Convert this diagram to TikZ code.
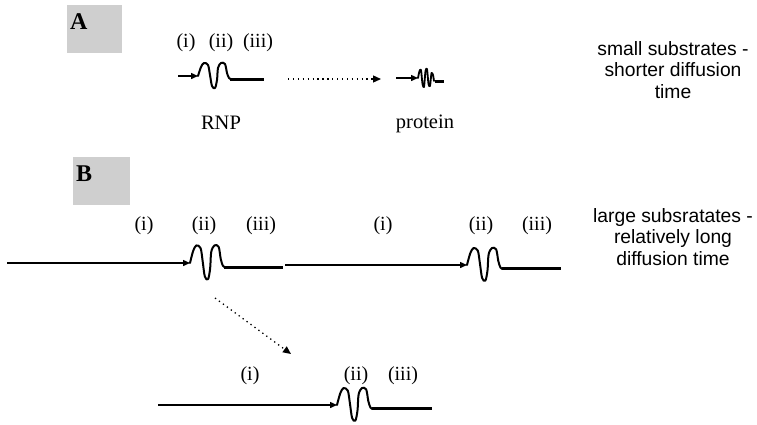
\documentclass[tikz,border=0pt]{standalone}
\usepackage{fontspec}
\setmainfont{Liberation Serif}
\newfontfamily\arialfont{Liberation Sans}
\usetikzlibrary{arrows.meta}
\begin{document}
\begin{tikzpicture}[x=1pt,y=-1pt,
  lbl/.style={font=\fontsize{20}{22}\selectfont, inner sep=0pt},
  word/.style={font=\fontsize{20.5}{22}\selectfont, inner sep=0pt},
  side/.style={font=\arialfont\fontsize{19.3}{21.8}\selectfont, align=center, inner sep=0pt},
  panel/.style={fill=gray!38, draw=none, inner sep=0pt, anchor=north west},
  panelletter/.style={font=\bfseries\fontsize{24}{24}\selectfont, inner sep=0pt, anchor=north west},
  thinarrow/.style={line width=1.4pt, -{Triangle[length=7pt,width=6pt]}},
  dotarrow/.style={line width=1.3pt, dash pattern=on 1.3pt off 3.6pt, -{Triangle[length=8pt,width=7pt]}},
  wig/.style={line width=2pt, line join=round, line cap=round},
  thickbar/.style={line width=3pt},
  pics/rnp/.style={code={
    \draw[wig] plot[smooth, tension=0.55] coordinates {(0,0) (3,-9) (6,-13) (10,-11) (12,-1) (14,10) (17,12) (19,4) (20,-8) (23,-13) (27,-12) (29,-3) (31,2) (33,3)};
    \draw[thickbar] (32,3) -- (33+#1,3);
  }},
  pics/prot/.style={code={
    \draw[wig, line width=1.8pt] plot[smooth, tension=0.4] coordinates {(0,0) (1.5,-7) (3,-8) (4.5,6) (6,9) (7.5,-7) (9,-9) (10.5,6) (12,8) (13.5,-5) (15,-3) (16,3)};
    \draw[thickbar] (17,3) -- (26,3);
  }}
]
\useasboundingbox (0,0) rectangle (757,424);

% ---------- Panel A ----------
\node[panel, minimum width=55pt, minimum height=48pt] (boxA) at (67,5) {};
\node[panelletter] (letA) at ([shift={(3,8)}]boxA.north west) {A};

\node[lbl] (ai) at (186,43) {(i)};
\node[lbl] (aii) at (221,43) {(ii)};
\node[lbl] (aiii) at (258,43) {(iii)};

\coordinate (as) at (178,76);
\coordinate (at) at (198,76);
\draw[thinarrow] (as) -- (at);
\pic at (at) {rnp=33};
\node[word] (rnp) at (221,123) {RNP};

\coordinate (ds) at (288,79);
\coordinate (dt) at (381,79);
\draw[dotarrow] (ds) -- (dt);

\coordinate (ps) at (396,78);
\coordinate (pt) at (418,78);
\draw[thinarrow] (ps) -- (pt);
\pic at (pt) {prot};
\node[word] (protein) at (425,124) {protein};

\node[side] (sideA) at (673,70) {small substrates -\\shorter diffusion\\time};

% ---------- Panel B ----------
\node[panel, minimum width=57pt, minimum height=48pt] (boxB) at (73,157) {};
\node[panelletter] (letB) at ([shift={(3,9)}]boxB.north west) {B};

\node[lbl] (b1) at (144,226) {(i)};
\node[lbl] (b2) at (204,226) {(ii)};
\node[lbl] (b3) at (261,226) {(iii)};
\node[lbl] (b4) at (383,226) {(i)};
\node[lbl] (b5) at (481,226) {(ii)};
\node[lbl] (b6) at (537,226) {(iii)};

\coordinate (bs) at (7,263);
\coordinate (bt) at (190,263);
\draw[thinarrow] (bs) -- (bt);
\pic[yscale=1.35, xscale=1.06] at (bt) {rnp=55};
\coordinate (bm) at (285,265);
\coordinate (bt2) at (467,265);
\draw[thinarrow] (bm) -- (bt2);
\pic[yscale=1.3, xscale=1.08] at (bt2) {rnp=54};

\node[side] (sideB) at (673,237) {large subsratates -\\relatively long\\diffusion time};

\coordinate (es) at (215,298);
\coordinate (et) at (291,354);
\draw[dotarrow] (es) -- (et);

\node[lbl] (c1) at (250,376) {(i)};
\node[lbl] (c2) at (356,376) {(ii)};
\node[lbl] (c3) at (403,376) {(iii)};

\coordinate (cs) at (158,405);
\coordinate (ct) at (337,405);
\draw[thinarrow] (cs) -- (ct);
\pic[yscale=1.3, xscale=1.08] at (ct) {rnp=55};
\end{tikzpicture}
\end{document}
